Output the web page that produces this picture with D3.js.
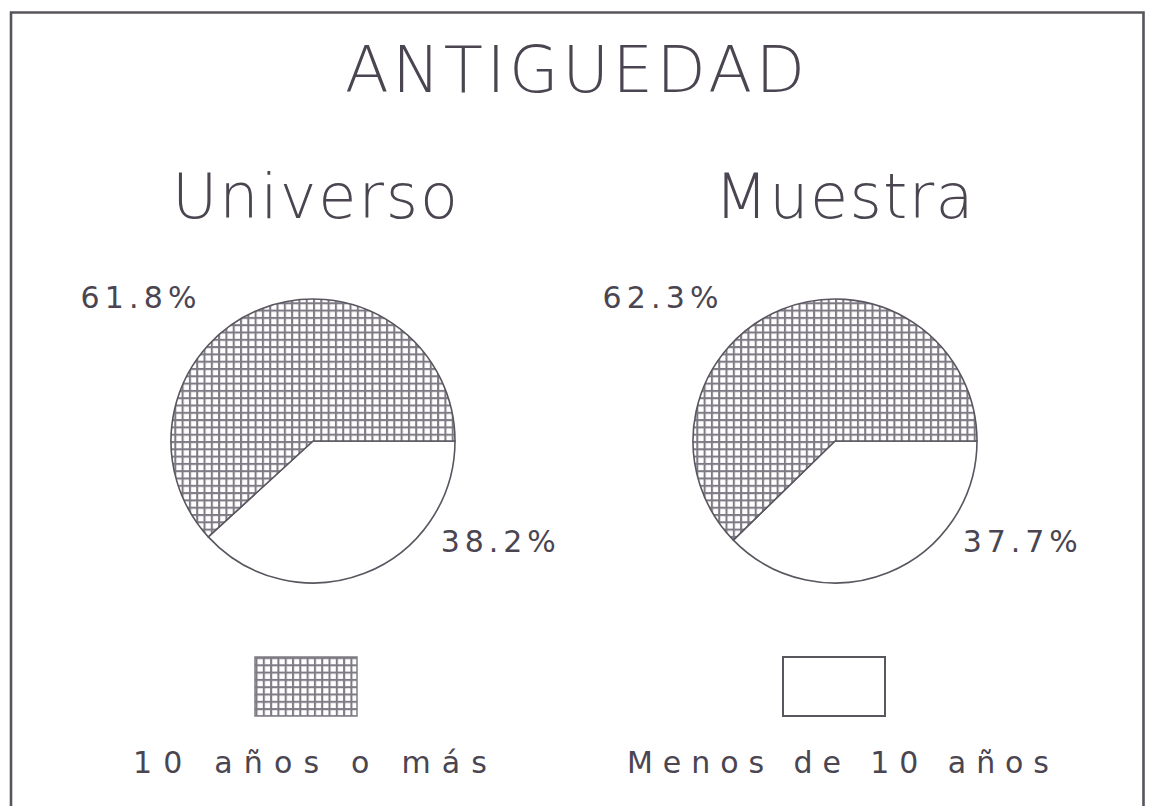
<!DOCTYPE html>
<html>
<head>
<meta charset="utf-8">
<script src="https://cdn.jsdelivr.net/npm/d3@7"></script>
<style>
  html, body { margin: 0; padding: 0; background: #fff; }
  svg text { font-family: 'DejaVu Sans ExtraLight', 'DejaVu Sans', sans-serif; font-weight: 200; fill: #4a4550; }
  svg text.small { font-family: 'DejaVu Sans', sans-serif; font-weight: 400; }
</style>
</head>
<body>
<svg id="chart" width="1151" height="806"></svg>
<script>
// data
var title = "ANTIGUEDAD";
var groups = ["Universo", "Muestra"];
var categories = ["10 años o más", "Menos de 10 años"];
var universo = [61.8, 38.2];
var muestra = [62.3, 37.7];

var W = 1151, H = 806;
var svg = d3.select("#chart");

// grid pattern for the hatched category
var defs = svg.append("defs");
var pat = defs.append("pattern")
    .attr("id", "grid")
    .attr("patternUnits", "userSpaceOnUse")
    .attr("width", 7.3).attr("height", 7.3);
pat.append("rect").attr("width", 7.3).attr("height", 7.3).attr("fill", "#fff");
pat.append("path")
    .attr("d", "M0,1H7.3M1,0V7.3")
    .attr("stroke", "#7f7b85").attr("stroke-width", 2.1);

var fills = ["url(#grid)", "#fff"];

// frame (bottom edge is outside the picture)
svg.append("path")
    .attr("d", "M11," + (H + 5) + "V12.5H1143.5V" + (H + 5))
    .attr("fill", "none").attr("stroke", "#58545c").attr("stroke-width", 2.6);

svg.append("text")
    .attr("x", 575).attr("y", 92)
    .attr("text-anchor", "middle")
    .attr("font-size", 64)
    .attr("textLength", 460).attr("lengthAdjust", "spacing")
    .text(title);

var x = d3.scalePoint().domain(groups).range([313, 835]);
var r = 142, cy = 441;

var pie = d3.pie().sort(null).value(function (d) { return d.v; })
    .startAngle(Math.PI / 2).endAngle(Math.PI / 2 + 2 * Math.PI);
var arc = d3.arc().innerRadius(0).outerRadius(r);

var series = [universo, muestra];
var subW = [286, 259];

groups.forEach(function (g, gi) {
    var cx = x(g);
    var vals = series[gi];
    // white slice first, clockwise from 3 o'clock
    var rows = [{ c: 1, v: vals[1] }, { c: 0, v: vals[0] }];
    var gg = svg.append("g").attr("transform", "translate(" + cx + "," + cy + ")");
    gg.selectAll("path")
        .data(pie(rows))
        .enter().append("path")
        .attr("d", arc)
        .attr("fill", function (d) { return fills[d.data.c]; })
        .attr("stroke", "#5a5660")
        .attr("stroke-width", 1.6)
        .attr("stroke-linejoin", "round");

    svg.append("text")
        .attr("x", cx + 2 + (gi ? 7 : 0)).attr("y", 218)
        .attr("text-anchor", "middle")
        .attr("font-size", 62)
        .attr("textLength", subW[gi]).attr("lengthAdjust", "spacing")
        .text(g);

    svg.append("text")
        .attr("class", "small")
        .attr("x", cx - r * 0.82).attr("y", cy - r * 0.94)
        .attr("text-anchor", "end")
        .attr("font-size", 30)
        .attr("textLength", 116).attr("lengthAdjust", "spacing")
        .text(d3.format(".1f")(vals[0]) + "%");

    svg.append("text")
        .attr("class", "small")
        .attr("x", cx + r * 0.9).attr("y", cy + r * 0.785)
        .attr("text-anchor", "start")
        .attr("font-size", 30)
        .attr("textLength", 115).attr("lengthAdjust", "spacing")
        .text(d3.format(".1f")(vals[1]) + "%");
});

// legend
var lx = d3.scalePoint().domain(categories).range([306, 834]);
var legW = [354, 422];
categories.forEach(function (c, i) {
    svg.append("rect")
        .attr("x", lx(c) - 51).attr("y", 657)
        .attr("width", 102).attr("height", 59)
        .attr("fill", fills[i])
        .attr("stroke", i ? "#5a5660" : "#7f7b85")
        .attr("stroke-width", i ? 2 : 1.5);
    svg.append("text")
        .attr("class", "small")
        .attr("x", lx(c) + 4).attr("y", 773)
        .attr("text-anchor", "middle")
        .attr("font-size", 30)
        .attr("textLength", legW[i]).attr("lengthAdjust", "spacing")
        .text(c);
});
</script>
</body>
</html>
